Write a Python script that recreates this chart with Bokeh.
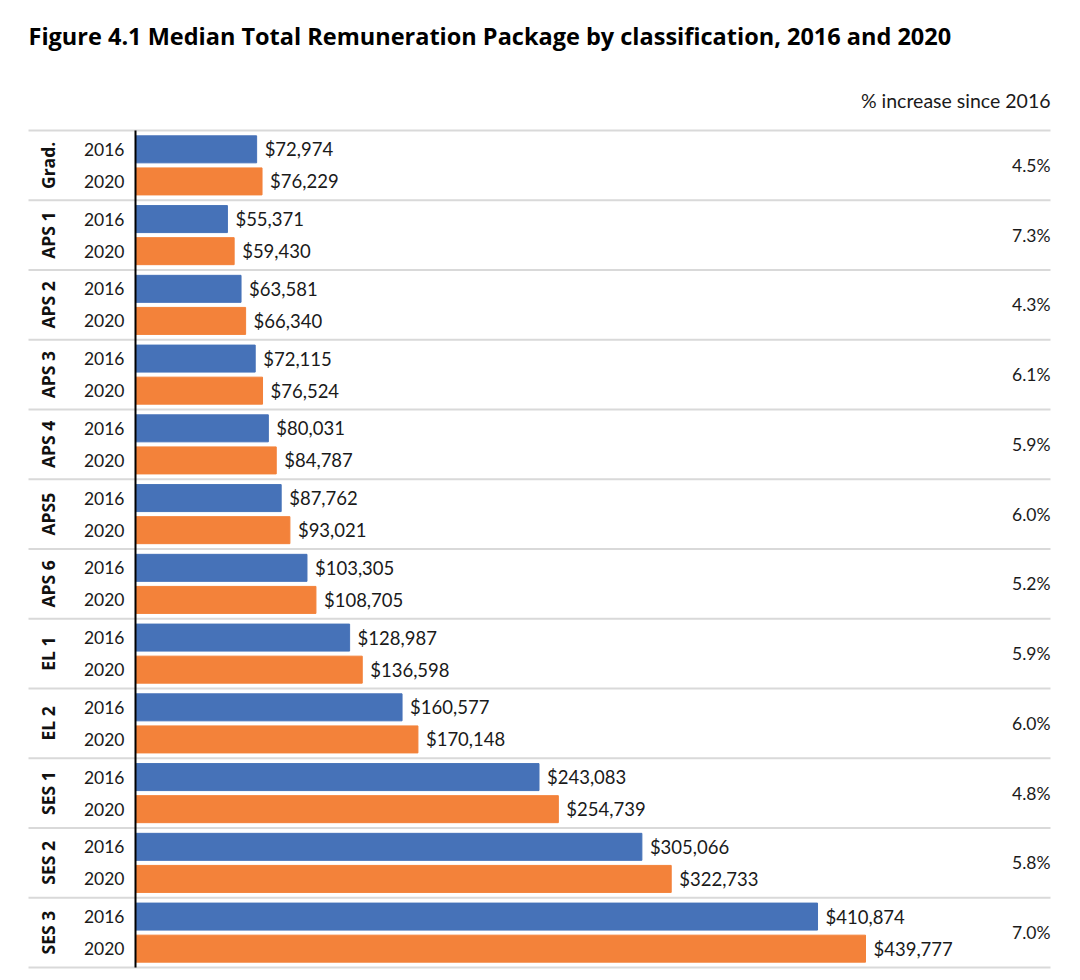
import math
from bokeh.plotting import figure
from bokeh.models import ColumnDataSource, Range1d, Label
from bokeh.core.properties import value
from bokeh.embed import file_html
from bokeh.resources import INLINE

# ---- data ----
groups = ["Grad.", "APS 1", "APS 2", "APS 3", "APS 4", "APS5", "APS 6",
          "EL 1", "EL 2", "SES 1", "SES 2", "SES 3"]
years = ["2016", "2020"]
v2016 = [72974, 55371, 63581, 72115, 80031, 87762, 103305, 128987, 160577, 243083, 305066, 410874]
v2020 = [76229, 59430, 66340, 76524, 84787, 93021, 108705, 136598, 170148, 254739, 322733, 439777]
pct = ["4.5%", "7.3%", "4.3%", "6.1%", "5.9%", "6.0%", "5.2%", "5.9%", "6.0%", "4.8%", "5.8%", "7.0%"]

title_text = "Figure 4.1 Median Total Remuneration Package by classification, 2016 and 2020"
pct_header = "% increase since 2016"

# ---- layout ----
W, H = 1070, 972
row_px = 69.75
top_px = 130          # frame y of first separator
zero_px = 135         # frame x of value 0
s = 730 / 439777      # px per unit

x_start = -zero_px / s
x_end = (W - zero_px) / s
y_top = -0.5 - top_px / row_px
y_bot = -0.5 + (H - top_px) / row_px

BLUE = "#4672B8"
ORANGE = "#F3823A"
FONT = "Lato"

p = figure(width=W, height=H, output_backend="svg", toolbar_location=None,
           x_range=Range1d(x_start, x_end), y_range=Range1d(y_bot, y_top),
           x_axis_type=None, y_axis_type=None, min_border=0,
           background_fill_color="white", border_fill_color="white")
p.outline_line_color = None

n = len(groups)
idx = list(range(n))
off = 0.23
bh = 27 / row_px

src16 = ColumnDataSource(dict(y=[i - off for i in idx], v=v2016,
                              lab=[f"${v:,}" for v in v2016], yr=[years[0]] * n))
src20 = ColumnDataSource(dict(y=[i + off for i in idx], v=v2020,
                              lab=[f"${v:,}" for v in v2020], yr=[years[1]] * n))

# separators
sep_x0 = x_start + 28 / s
sep_x1 = x_start + 1050 / s
sep = ColumnDataSource(dict(y=[i - 0.5 for i in range(n + 1)]))
p.segment(x0=sep_x0, x1=sep_x1, y0="y", y1="y", source=sep,
          line_color="#d9d9d9", line_width=2)

for src, col in ((src16, BLUE), (src20, ORANGE)):
    p.hbar(y="y", left=0, right="v", height=bh, source=src,
           fill_color=col, line_color=col, line_width=1)
    p.text(x="v", y="y", text="lab", source=src, x_offset=8,
           text_align="left", text_baseline="middle",
           text_font=value(FONT), text_font_size="18.5px", text_color="#1a1a1a")
    p.text(x=0, y="y", text="yr", source=src, x_offset=-11,
           text_align="right", text_baseline="middle",
           text_font=value(FONT), text_font_size="17.5px", text_color="#1a1a1a")

# axis line
p.segment(x0=0, x1=0, y0=-0.5, y1=n - 0.5, line_color="black", line_width=2)

gsrc = ColumnDataSource(dict(y=idx, g=groups, pct=pct))
p.text(x=0, y="y", text="g", source=gsrc, x_offset=-88, angle=math.pi / 2,
       text_align="center", text_baseline="middle",
       text_font=value("Open Sans"), text_font_style="bold",
       text_font_size="17.5px", text_color="#111111")
p.text(x=0, y="y", text="pct", source=gsrc, x_offset=915,
       text_align="right", text_baseline="middle",
       text_font=value(FONT), text_font_size="17.5px", text_color="#1a1a1a")

p.add_layout(Label(x=1050, y=H - 100, x_units="screen", y_units="screen",
                   text=pct_header, text_align="right", text_baseline="middle",
                   text_font=FONT, text_font_size="19.5px", text_color="#1a1a1a"))
p.add_layout(Label(x=28, y=H - 35, x_units="screen", y_units="screen",
                   text=title_text, text_align="left", text_baseline="middle",
                   text_font="Open Sans", text_font_style="bold",
                   text_font_size="23.5px", text_color="black"))

open("out.html", "w").write(file_html(p, INLINE))
